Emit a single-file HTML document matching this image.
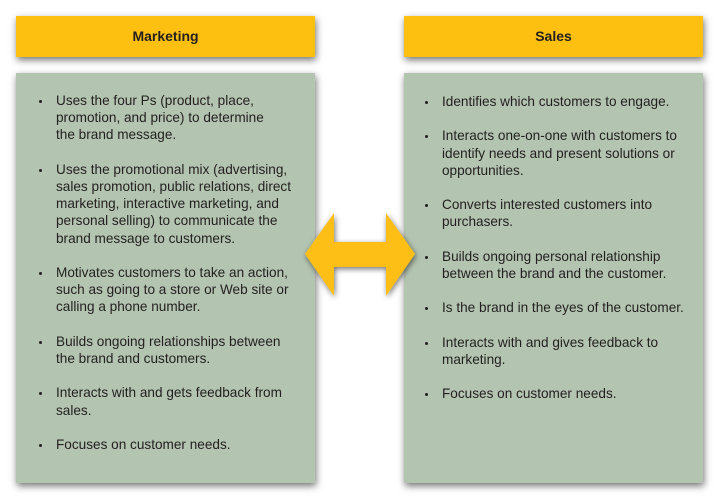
<!DOCTYPE html>
<html>
<head>
<meta charset="utf-8">
<style>
  html, body { margin:0; padding:0; background:#ffffff; }
  body { width:720px; height:500px; position:relative; overflow:hidden;
         font-family:"Liberation Sans", Arial, sans-serif; color:#231f20; }
  .hdr { position:absolute; top:16px; height:41px; width:299px; background:#fdc010;
         box-shadow: 1px 3px 7px rgba(0,0,0,0.55);
         font-weight:bold; font-size:14px; line-height:41px; text-align:center; }
  .box { position:absolute; top:73px; height:410px; width:299px; background:#b3c4b0;
         box-shadow: 1px 3px 7px rgba(0,0,0,0.55); }
  .list { position:absolute; font-size:13.6px; line-height:17.2px; white-space:nowrap; }
  .list p { margin:0 0 17.2px 0; position:relative; }
  .list p::before { content:""; position:absolute; left:-17.5px; top:8px; width:3px; height:3px;
                    border-radius:50%; background:#231f20; }
</style>
</head>
<body>
  <div class="hdr" style="left:16px;">Marketing</div>
  <div class="hdr" style="left:404px;">Sales</div>

  <div class="box" style="left:16px;"></div>
  <div class="box" style="left:404px;"></div>

  <div class="list" style="left:56px; top:92px;">
    <p>Uses the four Ps (product, place,<br>promotion, and price) to determine<br>the brand message.</p>
    <p>Uses the promotional mix (advertising,<br>sales promotion, public relations, direct<br>marketing, interactive marketing, and<br>personal selling) to communicate the<br>brand message to customers.</p>
    <p>Motivates customers to take an action,<br>such as going to a store or Web site or<br>calling a phone number.</p>
    <p>Builds ongoing relationships between<br>the brand and customers.</p>
    <p>Interacts with and gets feedback from<br>sales.</p>
    <p>Focuses on customer needs.</p>
  </div>

  <div class="list" style="left:442px; top:93px;">
    <p>Identifies which customers to engage.</p>
    <p>Interacts one-on-one with customers to<br>identify needs and present solutions or<br>opportunities.</p>
    <p>Converts interested customers into<br>purchasers.</p>
    <p>Builds ongoing personal relationship<br>between the brand and the customer.</p>
    <p>Is the brand in the eyes of the customer.</p>
    <p>Interacts with and gives feedback to<br>marketing.</p>
    <p>Focuses on customer needs.</p>
  </div>

  <svg width="720" height="500" style="position:absolute;left:0;top:0;" xmlns="http://www.w3.org/2000/svg">
    <defs>
      <filter id="sh" x="-20%" y="-20%" width="140%" height="140%">
        <feDropShadow dx="1" dy="2" stdDeviation="3" flood-color="#000" flood-opacity="0.55"/>
      </filter>
    </defs>
    <polygon filter="url(#sh)" fill="#fdbe16"
      points="305,254 334,213 334,242 386,242 386,213 415,254 386,296 386,267 334,267 334,296"/>
  </svg>
</body>
</html>
